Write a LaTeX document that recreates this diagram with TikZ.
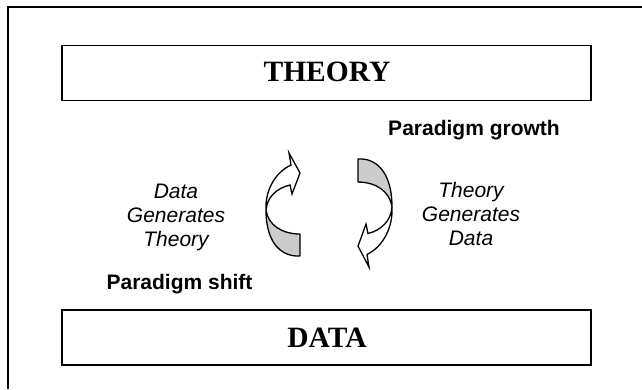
\documentclass[tikz,border=0pt]{standalone}
\usepackage{fontspec}
\setmainfont{Liberation Serif}
\setsansfont{Liberation Sans}
\begin{document}
\begin{tikzpicture}[x=1pt,y=-1pt,
  box/.style={draw,line width=1.5pt,minimum width=529pt,minimum height=55pt,inner sep=0pt},
  bigtxt/.style={font=\fontsize{29.5}{34}\selectfont\bfseries\rmfamily},
  boldlbl/.style={font=\fontsize{21}{24}\selectfont\bfseries\sffamily,inner sep=0pt},
  itlbl/.style={font=\fontsize{21}{24}\selectfont\itshape\sffamily,align=center,inner sep=0pt},
  pics/curvedarrow/.style={code={
    \filldraw[fill=black!20,line width=1.3pt,line join=round]
      (17,51) .. controls (0,52) and (-17,40) .. (-17,5)
      .. controls (-15,20) and (-1,29) .. (17,29) -- cycle;
    \filldraw[fill=white,line width=1.3pt,line join=miter]
      (-17,5) .. controls (-18,-13) and (-9,-32) .. (8,-40)
      -- (6,-52) -- (17,-32) -- (9,-11) -- (7,-20)
      .. controls (-6,-17) and (-16,-8) .. (-17,5) -- cycle;
  }}]
\useasboundingbox (0,0) rectangle (642,389);
% outer frame (cut off at right and bottom)
\draw[line width=2pt] (8,389) -- (8,7) -- (642,7);
% boxes
\node[box] (theory) at (326.5,73) {};
\node[bigtxt] (theorytxt) at (327,72) {THEORY};
\node[box] (data) at (326.5,337.5) {};
\node[bigtxt] (datatxt) at (327,338) {DATA};
% labels
\node[boldlbl] (growth) at (474,130) {Paradigm growth};
\node[boldlbl] (shift) at (179.5,284) {Paradigm shift};
\node[itlbl] (dgt) at (176,217) {Data\\Generates\\Theory};
\node[itlbl] (tgd) at (471,214) {Theory\\Generates\\Data};
% curved arrows
\pic at (283,205) {curvedarrow};
\pic[rotate=180,yscale=1.05] at (375,212.5) {curvedarrow};
\end{tikzpicture}
\end{document}
